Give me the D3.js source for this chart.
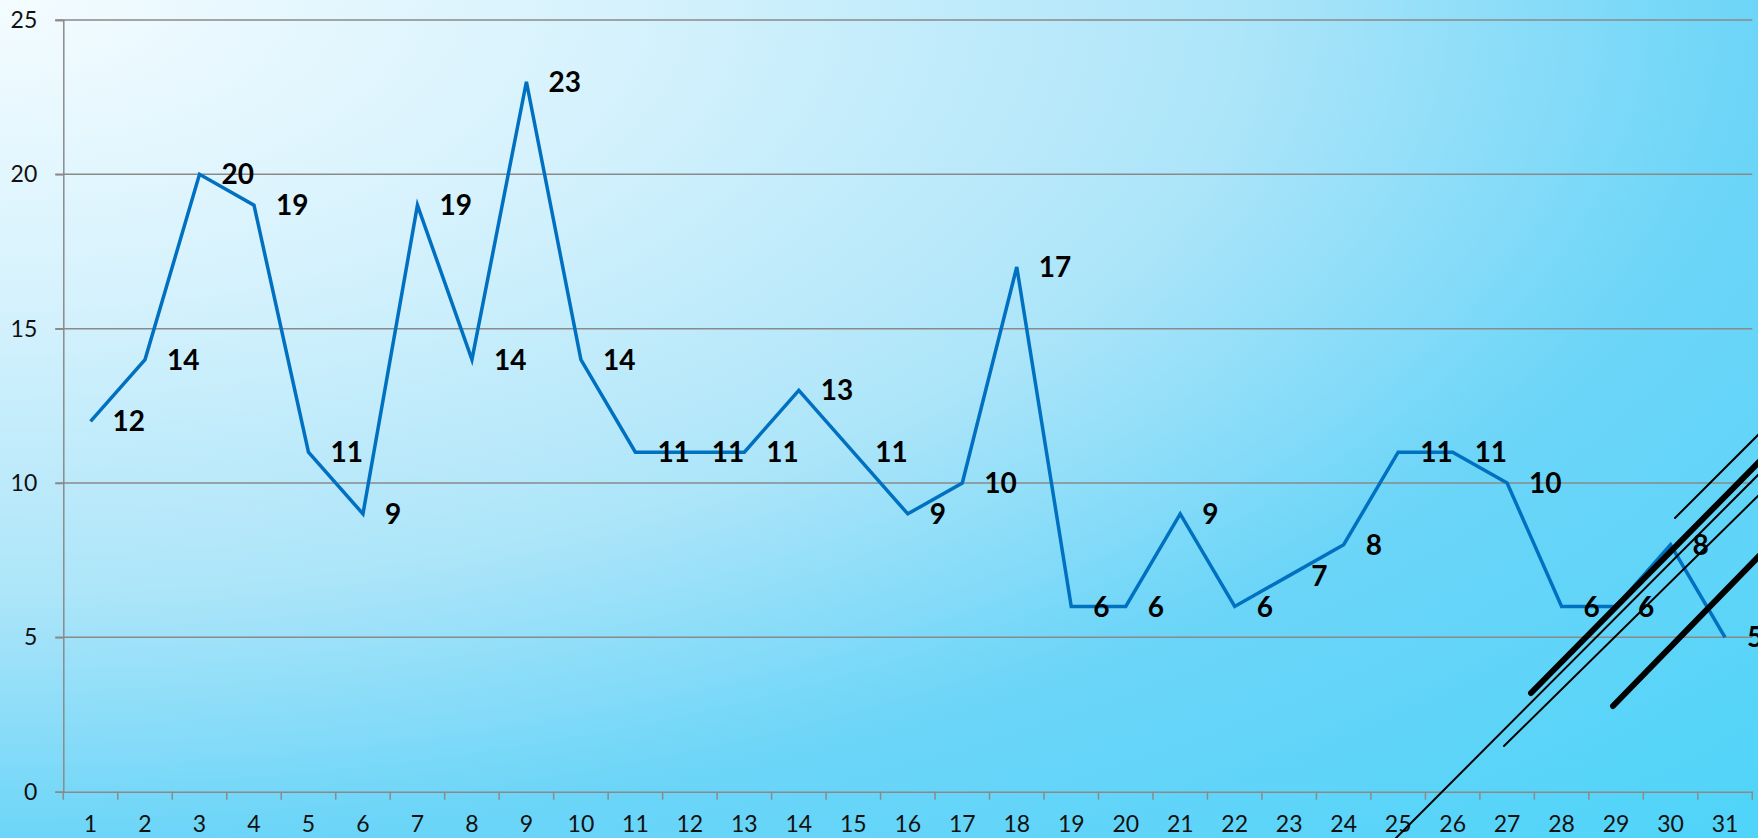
<!DOCTYPE html>
<html><head><meta charset="utf-8">
<script src="https://cdn.jsdelivr.net/npm/d3@7/dist/d3.min.js"></script>
<style>
html,body{margin:0;padding:0;overflow:hidden;}
svg{display:block;}
</style></head>
<body>
<script>
const categories = d3.range(1, 32).map(String);
const values = [12,14,20,19,11,9,19,14,23,14,11,11,11,13,11,9,10,17,6,6,9,6,7,8,11,11,10,6,6,8,5];
const yTicks = [0,5,10,15,20,25];

const W = 1758, H = 838;
const m = {left: 63.3, right: W - 1752.3, top: 20, bottom: H - 791.7};

const svg = d3.select("body").append("svg").attr("width", W).attr("height", H);
const defs = svg.append("defs");
const grad = defs.append("radialGradient").attr("id","bg")
  .attr("cx",0).attr("cy",0).attr("fx",0).attr("fy",0).attr("r",1.414);
[[0,"#f4fcff"],[0.25,"#d6f2fd"],[0.5,"#ade5f9"],[0.707,"#6cd5f8"],[1,"#4fd4f9"]]
  .forEach(([o,c])=>grad.append("stop").attr("offset",o).attr("stop-color",c));
svg.append("rect").attr("width",W).attr("height",H).attr("fill","url(#bg)");

const x = d3.scaleBand().domain(categories).range([m.left, W - m.right]).padding(0);
const y = d3.scaleLinear().domain([0,25]).range([H - m.bottom, m.top]);

const gridColor = "#8a8a8a";
// gridlines
svg.append("g").selectAll("line").data(yTicks.filter(d=>d>0)).join("line")
  .attr("x1", m.left - 8).attr("x2", W - m.right)
  .attr("y1", d=>y(d)).attr("y2", d=>y(d))
  .attr("stroke", gridColor).attr("stroke-width", 1.5);

// y axis
const yAxis = svg.append("g").attr("transform",`translate(${m.left},0)`)
  .call(d3.axisLeft(y).tickValues(yTicks).tickSize(8).tickPadding(18));
yAxis.selectAll("path,line").attr("stroke", gridColor).attr("stroke-width",1.5);
yAxis.selectAll("text").attr("font-family","Lato, 'Open Sans', sans-serif")
  .attr("font-size",23).attr("fill","#111");

// x axis
const xAxis = svg.append("g").attr("transform",`translate(0,${H - m.bottom})`)
  .call(d3.axisBottom(x).tickSize(0).tickPadding(24));
xAxis.select(".domain").attr("stroke", gridColor).attr("stroke-width",1.5);
xAxis.selectAll("text").attr("font-family","Lato, 'Open Sans', sans-serif")
  .attr("font-size",23).attr("fill","#111");
// tick marks at category boundaries
const bounds = categories.map(c=>x(c)).concat([x(categories[categories.length-1]) + x.bandwidth()]);
svg.append("g").selectAll("line").data(bounds).join("line")
  .attr("x1",d=>d).attr("x2",d=>d)
  .attr("y1", H - m.bottom).attr("y2", H - m.bottom + 8)
  .attr("stroke", gridColor).attr("stroke-width",1.5);

// line
const line = d3.line().x((d,i)=>x(categories[i]) + x.bandwidth()/2).y(d=>y(d));
svg.append("path").datum(values).attr("d", line)
  .attr("fill","none").attr("stroke","#0070c0").attr("stroke-width",3.5)
  .attr("stroke-linejoin","miter");

// data labels
svg.append("g").selectAll("text").data(values).join("text")
  .attr("x",(d,i)=>x(categories[i]) + x.bandwidth()/2 + 22)
  .attr("y",d=>y(d))
  .attr("dy","0.36em")
  .attr("font-family","Lato, 'Open Sans', sans-serif")
  .attr("font-weight","bold").attr("font-size",28).attr("fill","#000")
  .text(d=>d);

// decorative diagonal strokes (bottom-right)
const decor = [
  {x1:1531, y1:693, x2:1762, y2:459, w:6},
  {x1:1675, y1:518, x2:1762, y2:431, w:2},
  {x1:1396, y1:838, x2:1762, y2:471, w:2},
  {x1:1504, y1:746, x2:1762, y2:492, w:2},
  {x1:1613, y1:706, x2:1762, y2:553, w:6}
];
svg.append("g").selectAll("line").data(decor).join("line")
  .attr("x1",d=>d.x1).attr("y1",d=>d.y1).attr("x2",d=>d.x2).attr("y2",d=>d.y2)
  .attr("stroke","#000").attr("stroke-width",d=>d.w).attr("stroke-linecap","round");
</script>
</body></html>
